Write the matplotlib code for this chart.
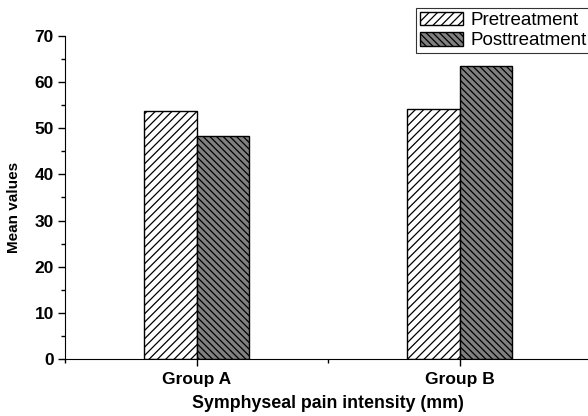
import matplotlib
matplotlib.use('Agg')
import matplotlib.pyplot as plt
import numpy as np
from matplotlib.ticker import MultipleLocator

plt.rcParams['font.family'] = ['Liberation Sans', 'DejaVu Sans']
plt.rcParams['hatch.linewidth'] = 0.9

groups = ['Group A', 'Group B']
pretreatment = [53.7, 54.2]
posttreatment = [48.3, 63.6]

fig = plt.figure(figsize=(5.88, 4.16), dpi=100)
ax = fig.add_axes([0.1105, 0.137, 0.895, 0.7765])

x = np.arange(1, len(groups) + 1)
width = 0.2

ax.bar(x - width / 2, pretreatment, width, color='white', edgecolor='black',
       hatch='////', linewidth=1.0, label='Pretreatment')
ax.bar(x + width / 2, posttreatment, width, color='#808080', edgecolor='black',
       hatch='\\\\\\\\\\', linewidth=1.0, label='Posttreatment')

ax.set_xlim(0.5, 2.5)
ax.set_ylim(0, 70)
ax.set_xticks(x)
ax.set_xticklabels(groups, fontsize=12.5, fontweight='bold')
ax.xaxis.set_minor_locator(MultipleLocator(0.5))
ax.yaxis.set_major_locator(MultipleLocator(10))
ax.yaxis.set_minor_locator(MultipleLocator(5))
for lbl in ax.get_yticklabels():
    lbl.set_fontweight('bold')
    lbl.set_fontsize(12.5)

ax.tick_params(axis='both', which='major', direction='out', length=5, width=1)
ax.tick_params(axis='both', which='minor', direction='out', length=3, width=1)
ax.tick_params(axis='y', pad=3)
ax.tick_params(axis='x', pad=4)

ax.spines['top'].set_visible(False)
ax.spines['right'].set_visible(False)

ax.set_xlabel('Symphyseal pain intensity (mm)', fontsize=12.8, fontweight='bold', labelpad=6)
ax.set_ylabel('Mean values', fontsize=11, fontweight='bold')
ax.yaxis.set_label_coords(-0.083, 0.47)

leg = fig.legend(loc='upper left', bbox_to_anchor=(416 / 588, 1 - 8 / 416), fontsize=13.5,
                 frameon=True, fancybox=False, borderpad=0.2, handlelength=2.3,
                 handleheight=0.75, handletextpad=0.4, labelspacing=0.15,
                 borderaxespad=0)
leg.get_frame().set_edgecolor('black')
leg.get_frame().set_linewidth(0.8)

fig.savefig('out.png', dpi=100)
